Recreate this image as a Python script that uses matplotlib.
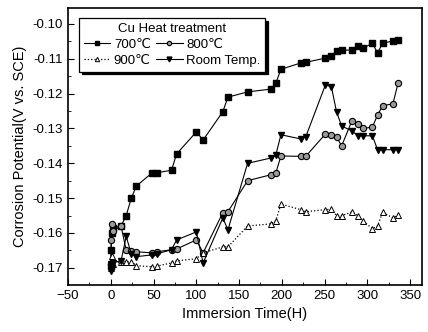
import matplotlib
matplotlib.use("Agg")
import matplotlib.pyplot as plt
from matplotlib.ticker import MultipleLocator, FormatStrFormatter

plt.rcParams['font.family'] = ['Liberation Sans Narrow', 'Liberation Sans', 'DejaVu Sans']

# immersion time (h) and corrosion potential (V vs. SCE)
t_700 = [0, 0.5, 1, 2, 12, 18, 24, 30, 48, 54, 71, 77, 100, 108, 131, 137, 160, 187, 193, 199,
         222, 228, 251, 258, 264, 270, 282, 289, 295, 306, 312, 318, 330, 336]
e_700 = [-0.1695, -0.165, -0.160, -0.1585, -0.158, -0.155, -0.150, -0.1465, -0.1428, -0.1427,
         -0.1420, -0.1373, -0.1310, -0.1333, -0.1252, -0.1210, -0.1195, -0.1187, -0.1170, -0.1130,
         -0.1112, -0.1110, -0.1098, -0.1092, -0.1077, -0.1075, -0.1075, -0.1063, -0.1070, -0.1055,
         -0.1083, -0.1055, -0.1049, -0.1046]

t_800 = [0, 0.5, 1, 2, 12, 18, 24, 30, 48, 54, 71, 77, 100, 108, 131, 137, 160, 187, 193, 199,
         222, 228, 251, 258, 264, 270, 282, 289, 295, 306, 312, 318, 330, 336]
e_800 = [-0.1690, -0.1620, -0.1575, -0.1595, -0.1580, -0.1650, -0.1652, -0.1654, -0.1657, -0.1654,
         -0.1648, -0.1646, -0.1620, -0.1657, -0.1542, -0.1539, -0.1450, -0.1433, -0.1428, -0.1379,
         -0.1380, -0.1380, -0.1316, -0.1318, -0.1324, -0.1350, -0.1278, -0.1287, -0.1300, -0.1296,
         -0.1261, -0.1235, -0.1229, -0.1170]

t_900 = [0, 0.5, 1, 2, 12, 18, 24, 30, 48, 54, 71, 77, 100, 108, 131, 137, 160, 187, 193, 199,
         222, 228, 251, 258, 264, 270, 282, 289, 295, 306, 312, 318, 330, 336]
e_900 = [-0.1700, -0.1680, -0.1665, -0.1690, -0.1683, -0.1683, -0.1683, -0.1694, -0.1697, -0.1695,
         -0.1686, -0.1680, -0.1674, -0.1657, -0.1640, -0.1640, -0.1580, -0.1574, -0.1565, -0.1517,
         -0.1533, -0.1539, -0.1533, -0.1532, -0.1550, -0.1550, -0.1540, -0.1550, -0.1565, -0.1588,
         -0.1580, -0.1540, -0.1557, -0.1548]

t_rt = [0, 0.5, 1, 2, 12, 18, 24, 30, 48, 54, 71, 77, 100, 108, 131, 137, 160, 187, 193, 199,
        222, 228, 251, 258, 264, 270, 282, 289, 295, 306, 312, 318, 330, 336]
e_rt = [-0.1710, -0.1690, -0.1700, -0.1685, -0.1680, -0.1610, -0.1660, -0.1668, -0.1663, -0.1660,
        -0.1648, -0.1620, -0.1597, -0.1686, -0.1557, -0.1591, -0.1400, -0.1385, -0.1376, -0.1318,
        -0.1330, -0.1324, -0.1175, -0.1180, -0.1252, -0.1293, -0.1307, -0.1321, -0.1321, -0.1321,
        -0.1361, -0.1361, -0.1361, -0.1361]

fig = plt.figure(figsize=(4.28, 3.32), dpi=100)
ax = fig.add_axes([0.159, 0.142, 0.827, 0.834])

l700, = ax.plot(t_700, e_700, '-', color='black', lw=0.8, marker='s', ms=4.5,
                mfc='black', mec='black', label='700\u2103')
l800, = ax.plot(t_800, e_800, '-', color='black', lw=0.8, marker='o', ms=4.5,
                mfc='#9a9a9a', mec='black', mew=0.8, label='800\u2103')
l900, = ax.plot(t_900, e_900, ':', color='black', lw=0.9, marker='^', ms=4.5,
                mfc='white', mec='black', mew=0.7, label='900\u2103')
lrt, = ax.plot(t_rt, e_rt, '-', color='black', lw=0.8, marker='v', ms=5,
               mfc='black', mec='black', label='Room Temp.')

ax.set_xlim(-50, 364)
ax.set_ylim(-0.1749, -0.0954)
ax.xaxis.set_major_locator(MultipleLocator(50))
ax.xaxis.set_minor_locator(MultipleLocator(25))
ax.yaxis.set_major_locator(MultipleLocator(0.01))
ax.yaxis.set_minor_locator(MultipleLocator(0.005))
ax.yaxis.set_major_formatter(FormatStrFormatter('%.2f'))
ax.tick_params(which='both', direction='in', top=False, right=False, labelsize=9.5)
ax.tick_params(which='major', length=4)
ax.tick_params(which='minor', length=2)
for s in ax.spines.values():
    s.set_linewidth(1.2)

ax.set_xlabel('Immersion Time(H)', fontsize=10.5)
ax.set_ylabel('Corrosion Potential(V vs. SCE)', fontsize=10.5)

# legend fills column-wise, so order the handles to get 700/800 on the first row
leg = ax.legend([l700, l900, l800, lrt], [l.get_label() for l in (l700, l900, l800, lrt)],
                loc='upper left', ncol=2, title='Cu Heat treatment', fontsize=9.5,
                title_fontsize=9.5, frameon=True, fancybox=False,
                shadow={'color': 'black', 'alpha': 1, 'ox': 2, 'oy': -2},
                edgecolor='black', framealpha=1, markerscale=0.7,
                handlelength=2.0, handletextpad=0.3, columnspacing=0.4,
                labelspacing=0.3, borderpad=0.35, bbox_to_anchor=(0.012, 0.988))
leg.get_frame().set_linewidth(0.9)

fig.savefig('out.png', dpi=100)
